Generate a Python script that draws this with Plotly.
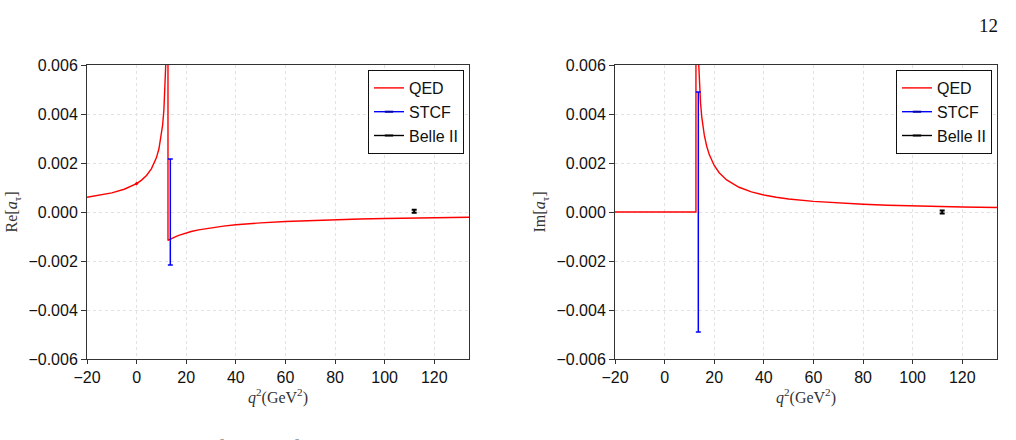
import plotly.graph_objects as go

# ---------------- data ----------------
q2_re = [-20, -15, -10, -5, -2, 0, 2, 4, 6, 7, 8, 9, 10, 10.5, 11, 11.5, 11.8, 12.2, 12.5, 12.62,
         12.65, 12.7, 13, 13.59, 14, 14.5, 15, 16, 17, 18, 20, 22, 25, 30, 35, 40, 45, 50, 60,
         70, 80, 90, 100, 110, 120, 134]
re_qed = [0.000604, 0.000680, 0.000781, 0.000928, 0.001053, 0.001161, 0.001302, 0.001492,
          0.001769, 0.001962, 0.002219, 0.002579, 0.003138, 0.003560, 0.004170, 0.005158,
          0.006151, 0.008882, 0.016974, 0.067210,
          -0.001160, -0.001157, -0.001139, -0.001106, -0.001084, -0.001059, -0.001035,
          -0.000991, -0.000951, -0.000914, -0.000851, -0.000797, -0.000729, -0.000642,
          -0.000575, -0.000523, -0.000480, -0.000445, -0.000389, -0.000347, -0.000314,
          -0.000288, -0.000266, -0.000247, -0.000231, -0.000213]

q2_im = [-20, 12.63, 12.65, 12.7, 13, 13.59, 14, 14.5, 15, 16, 17, 18, 20, 22, 25, 30, 35, 40,
         45, 50, 60, 70, 80, 90, 100, 110, 120, 134]
im_qed = [0.0, 0.0, 0.04470, 0.02426, 0.01049, 0.006375, 0.005259, 0.004423, 0.003863,
          0.003137, 0.002673, 0.002343, 0.001898, 0.001605, 0.001310, 0.001009, 0.000823,
          0.000696, 0.000604, 0.000533, 0.000432, 0.000364, 0.000314, 0.000276, 0.000246,
          0.000223, 0.000203, 0.000181]

q0_point_x = [0]
q0_point_y = [0.00116]

stcf_q2 = [13.59]
stcf_re = [0.0]
stcf_re_err = [0.00216]
stcf_im = [0.0]
stcf_im_err = [0.0049]

belle_q2 = [111.9]
belle_re = [0.00003]
belle_re_err = [0.00006]
belle_im = [0.0]
belle_im_err = [0.00006]

x_ticks = [-20, 0, 20, 40, 60, 80, 100, 120]
y_ticks = [-0.006, -0.004, -0.002, 0.0, 0.002, 0.004, 0.006]

# ---------------- figure ----------------
RED = "#ff0000"
BLUE = "#0000ff"
BLACK = "#000000"

fig = go.Figure()


def add_panel(xa, ya, leg, qed_x, qed_y, stcf_y, stcf_e, belle_y, belle_e, extra=False):
    fig.add_trace(go.Scatter(x=qed_x, y=qed_y, mode="lines", name="QED",
                             line=dict(color=RED, width=1.4), xaxis=xa, yaxis=ya,
                             legend=leg, showlegend=True))
    if extra:
        fig.add_trace(go.Scatter(x=q0_point_x, y=q0_point_y, mode="markers",
                                 marker=dict(symbol="diamond", size=3, color=RED),
                                 xaxis=xa, yaxis=ya, showlegend=False, legend=leg))
    # STCF
    fig.add_trace(go.Scatter(x=stcf_q2, y=stcf_y, mode="markers",
                             marker=dict(size=0.1, color=BLUE, opacity=0),
                             error_y=dict(type="data", array=stcf_e, color=BLUE,
                                          thickness=1.5, width=2.5),
                             xaxis=xa, yaxis=ya, showlegend=False, legend=leg))
    fig.add_trace(go.Scatter(x=[None], y=[None], mode="lines+markers", name="STCF",
                             line=dict(color=BLUE, width=1.4),
                             marker=dict(symbol="line-ew", size=6, color="#0000aa",
                                         line=dict(width=2, color="#0000aa")),
                             xaxis=xa, yaxis=ya, legend=leg))
    # Belle II
    fig.add_trace(go.Scatter(x=belle_q2, y=belle_y, mode="markers",
                             marker=dict(size=0.1, color=BLACK, opacity=0),
                             error_y=dict(type="data", array=belle_e, color=BLACK,
                                          thickness=2, width=2.5),
                             xaxis=xa, yaxis=ya, showlegend=False, legend=leg))
    fig.add_trace(go.Scatter(x=[None], y=[None], mode="lines+markers", name="Belle II",
                             line=dict(color=BLACK, width=1.4),
                             marker=dict(symbol="line-ew", size=6, color=BLACK,
                                         line=dict(width=2, color=BLACK)),
                             xaxis=xa, yaxis=ya, legend=leg))


add_panel("x", "y", "legend", q2_re, re_qed, stcf_re, stcf_re_err,
          belle_re, belle_re_err, extra=True)
add_panel("x2", "y2", "legend2", q2_im, im_qed, stcf_im, stcf_im_err,
          belle_im, belle_im_err)

W, H = 1016, 440
ML, MR, MT, MB = 87, 19, 65, 81
PW = W - ML - MR
PH = H - MT - MB


def px_x(p):
    return (p - ML) / PW


def px_y(p):
    return (H - MB - p) / PH


tick_font = dict(family="Liberation Sans, Arial, sans-serif", size=16, color="#111")
title_font = dict(family="Liberation Serif, DejaVu Serif, serif", size=16, color="#333")

common_x = dict(range=[-20, 134], tickmode="array", tickvals=x_ticks,
                ticks="outside", ticklen=4, tickwidth=1, tickcolor="#333",
                showline=True, linecolor="#333", linewidth=1, mirror=True,
                showgrid=True, gridcolor="#e2e2e2", griddash="dot", gridwidth=1,
                zeroline=False, tickfont=tick_font)
common_y = dict(range=[-0.006, 0.006], tickmode="array", tickvals=y_ticks,
                tickformat=".3f",
                ticks="outside", ticklen=5, tickwidth=1, tickcolor="#333",
                showline=True, linecolor="#333", linewidth=1, mirror=True,
                showgrid=True, gridcolor="#e2e2e2", griddash="dot", gridwidth=1,
                zeroline=False, tickfont=tick_font)

xt = "<i>q</i><sup>2</sup>(GeV<sup>2</sup>)"
leg_font = dict(family="Liberation Sans, Arial, sans-serif", size=16, color="#111")

fig.update_layout(
    width=W, height=H,
    margin=dict(l=ML, r=MR, t=MT, b=MB, autoexpand=False),
    paper_bgcolor="white", plot_bgcolor="white",
    xaxis=dict(domain=[0, px_x(469)], anchor="y",
               title=dict(text=xt, font=title_font, standoff=4), **common_x),
    yaxis=dict(domain=[0, 1], anchor="x",
               title=dict(text="Re[<i>a</i><sub>τ</sub>]", font=title_font, standoff=6),
               **common_y),
    xaxis2=dict(domain=[px_x(615), 1], anchor="y2",
                title=dict(text=xt, font=title_font, standoff=4), **common_x),
    yaxis2=dict(domain=[0, 1], anchor="x2",
                title=dict(text="Im[<i>a</i><sub>τ</sub>]", font=title_font, standoff=6),
                **common_y),
    legend=dict(x=px_x(464), y=px_y(70), xanchor="right", yanchor="top",
                bgcolor="white", bordercolor="#111", borderwidth=1,
                font=leg_font, itemwidth=30, tracegroupgap=0),
    legend2=dict(x=px_x(992), y=px_y(70), xanchor="right", yanchor="top",
                 bgcolor="white", bordercolor="#111", borderwidth=1,
                 font=leg_font, itemwidth=30, tracegroupgap=0),
    showlegend=True,
)

# page number and the caption superscripts that peek in at the bottom edge
fig.add_annotation(text="12", x=px_x(1000), y=px_y(13), xref="paper", yref="paper",
                   showarrow=False, font=dict(family="Liberation Serif, serif", size=19,
                                              color="#111"))
for cx in [218, 293]:
    fig.add_annotation(text="2", x=px_x(cx), y=px_y(435), xref="paper", yref="paper",
                       yanchor="top", showarrow=False,
                       font=dict(family="Liberation Serif, serif", size=9, color="#111"))

fig.write_html("out.html")
